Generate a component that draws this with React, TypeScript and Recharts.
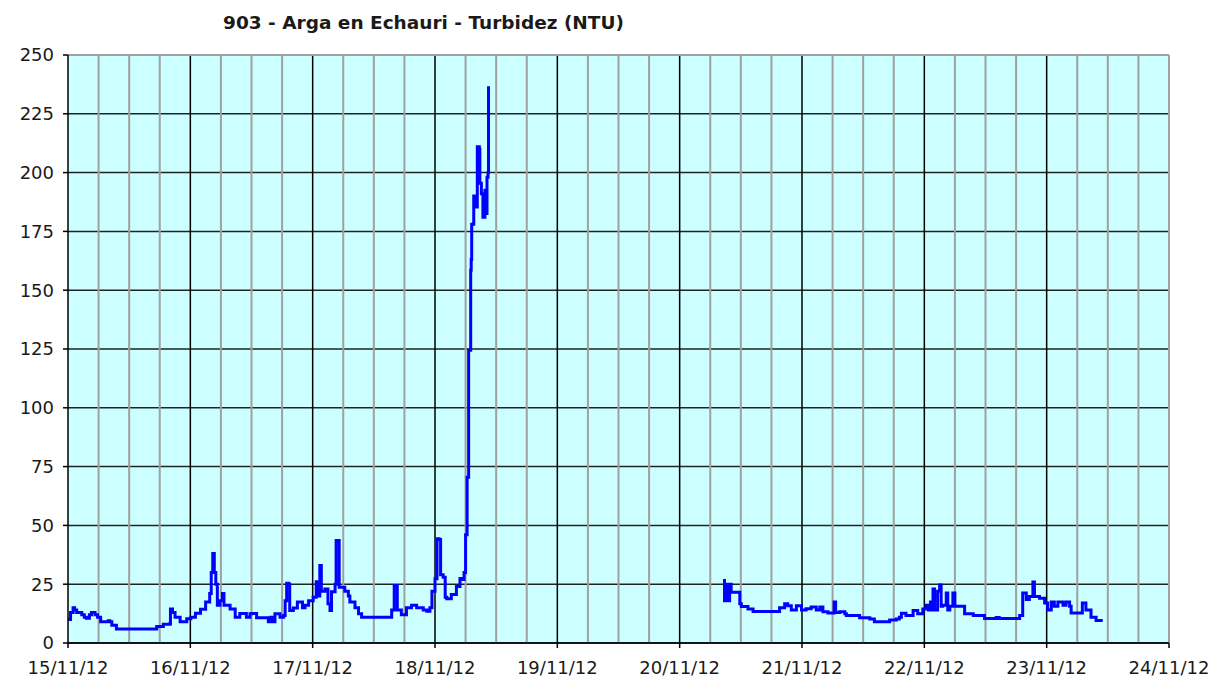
import React from "react";
import { LineChart, Line, XAxis, YAxis, CartesianGrid, ReferenceLine } from "recharts";

const title = "903 - Arga en Echauri - Turbidez (NTU)";
const dayLabels = ["15/11/12", "16/11/12", "17/11/12", "18/11/12", "19/11/12", "20/11/12", "21/11/12", "22/11/12", "23/11/12", "24/11/12"];
const xTicks = [0, 24, 48, 72, 96, 120, 144, 168, 192, 216];
const yTicks = [0, 25, 50, 75, 100, 125, 150, 175, 200, 225, 250];
const dayLines = [24, 48, 72, 96, 120, 144, 168, 192];
const sixHourLines = [6, 12, 18, 30, 36, 42, 54, 60, 66, 78, 84, 90, 102, 108, 114, 126, 132, 138, 150, 156, 162, 174, 180, 186, 198, 204, 210, 216];

// hours since 15/11/12 00:00
const hoursA = [0, 0.5, 1, 1.3, 1.7, 2.7, 3.2, 3.6, 4.2, 4.6, 5.3, 5.8, 6.4, 7.9, 8.2, 8.6, 9.5, 12, 16.7, 17.4, 18.7, 20, 20.1, 20.5, 21, 22, 23.3, 24.1, 25, 26, 27, 27.8, 28.1, 28.4, 28.7, 29, 29.3, 29.8, 30.3, 30.6, 31.8, 32.8, 33.7, 35, 35.7, 36, 37, 39, 39.3, 39.8, 40.3, 40.6, 41.6, 42.3, 42.6, 42.9, 43.3, 43.5, 44.2, 45, 46, 46.5, 47.2, 48.1, 48.7, 49, 49.4, 49.7, 50.4, 51, 51.4, 51.7, 52.4, 52.6, 53, 53.2, 54.3, 55, 55.3, 56.3, 57, 57.6, 62.8, 63.5, 64, 64.2, 64.6, 65.4, 66.4, 67.4, 68.4, 69.7, 70.4, 71, 71.4, 72, 72.4, 72.8, 73.1, 73.6, 74, 74.3, 75.2, 76.2, 76.9, 77.5, 77.7, 78, 78.3, 78.6, 79, 79.1, 79.2, 79.6, 79.9, 80.3, 80.7, 80.8, 81.1, 81.4, 81.8, 82.1, 82.2, 82.4, 82.5];
const valuesA = [10, 13, 15, 14, 13, 12, 11, 10.5, 12, 13, 12, 11, 9, 9.5, 9, 7.5, 6, 6, 6, 7, 8, 8.2, 14.5, 13, 11, 9, 10.3, 11, 12.7, 14.4, 17.4, 21, 30, 38, 30, 25, 16, 18, 21, 16, 14.5, 11, 12.5, 11, 12.4, 12.5, 10.7, 10.7, 9, 11, 9, 12.4, 11, 11.7, 18, 25.4, 25, 13.8, 14.9, 17.4, 15, 16, 18, 19.5, 26, 20, 33, 22, 23, 16.7, 13.8, 21.8, 25, 43.6, 43.6, 23.7, 22, 20, 17.4, 15, 12.4, 11, 11, 14, 24.5, 24.5, 14, 12, 15, 16, 15, 14, 13.5, 15, 22, 27.3, 44.3, 44, 29, 28, 19.5, 18.8, 20.6, 24, 27.4, 27, 30, 46, 70.5, 124.5, 158.5, 163, 178, 190, 185.4, 211, 210, 195.5, 191, 181, 192.5, 182.6, 198, 200, 236.7];

const gapHour = 100;

const hoursB = [128.5, 128.8, 129.2, 129.5, 129.8, 130.1, 131.4, 131.8, 132.1, 133.4, 134.4, 139, 139.6, 140.6, 141.2, 141.9, 142.9, 143.9, 144.8, 145.8, 146.8, 147.5, 148.1, 149.1, 150.1, 150.3, 150.6, 151.4, 152.4, 152.7, 154.6, 155.3, 157.3, 158.2, 160.5, 161.2, 162.5, 163.1, 163.5, 164.4, 165.8, 166.7, 167.7, 168.4, 168.8, 169.2, 169.5, 169.7, 170, 170.6, 171, 171.3, 171.6, 172.3, 172.6, 173, 173.6, 174, 175, 175.9, 177.6, 179.8, 182.1, 182.7, 185.7, 186.7, 187.3, 188, 188.6, 189.3, 189.6, 190.6, 191.6, 192.2, 192.9, 193.5, 194.2, 195.2, 195.8, 196.5, 196.8, 198.1, 199, 199.7, 200.7, 201.7, 203];
const valuesB = [26.6, 18, 25, 18, 25, 21.6, 21.6, 16.7, 15.5, 14.5, 13.4, 13.4, 15, 16.7, 15.8, 14, 15.8, 14, 14.6, 15.3, 14, 15.3, 13.3, 12.8, 12.8, 17.4, 13, 13.3, 12.4, 11.7, 11.7, 10.7, 10.2, 9, 9, 9.8, 10.2, 11, 12.6, 11.7, 13.8, 12.4, 14.5, 16, 14, 17.4, 14, 23, 14, 22, 24.7, 15.6, 16, 21.3, 14, 15.6, 21.3, 15.6, 15.6, 12.4, 11.7, 10.4, 10.8, 10.4, 10.4, 11.7, 21.3, 18.5, 19.8, 25.9, 19.8, 19, 17, 14, 17.4, 15.6, 17.4, 16, 17.4, 15.6, 12.8, 12.8, 17, 14, 11, 9.6, 9.6];

const data = [
  ...hoursA.map((h, i) => ({ h, v: valuesA[i] as number | null })),
  { h: gapHour, v: null },
  ...hoursB.map((h, i) => ({ h, v: valuesB[i] as number | null })),
];

const FONT = "'DejaVu Sans', Verdana, sans-serif";
const tickStyle = { fontFamily: FONT, fontSize: 18, fill: "#1a1a1a" };

export default function App() {
  return (
    <div style={{ position: "absolute", left: 0, top: 0, width: 1228, height: 684, background: "#ffffff" }}>
      <div
        style={{
          position: "absolute",
          left: 0,
          width: 847,
          top: 12,
          textAlign: "center",
          fontFamily: FONT,
          fontWeight: "bold",
          fontSize: 18.5,
          color: "#1a1a1a",
        }}
      >
        {title}
      </div>
      <LineChart
        width={1228}
        height={684}
        data={data}
        margin={{ top: 55, right: 59, bottom: 0, left: 0 }}
      >
        <CartesianGrid vertical={false} stroke="#222222" strokeWidth={1.5} fill="#CCFFFF" />
        {sixHourLines.map((x) => (
          <ReferenceLine key={"g" + x} x={x} stroke="#A0A0A0" strokeWidth={2} />
        ))}
        {dayLines.map((x) => (
          <ReferenceLine key={"d" + x} x={x} stroke="#000000" strokeWidth={1.5} />
        ))}
        <ReferenceLine y={250} stroke="#A0A0A0" strokeWidth={2} />
        <XAxis
          dataKey="h"
          type="number"
          domain={[0, 216]}
          ticks={xTicks}
          tickFormatter={(v: number) => dayLabels[xTicks.indexOf(v)] ?? ""}
          interval={0}
          height={41}
          tickSize={5}
          tickMargin={13}
          axisLine={{ stroke: "#000", strokeWidth: 1.5 }}
          tickLine={{ stroke: "#000", strokeWidth: 1.5 }}
          tick={tickStyle}
        />
        <YAxis
          type="number"
          domain={[0, 250]}
          ticks={yTicks}
          interval={0}
          width={68}
          tickSize={5}
          tickMargin={9}
          axisLine={{ stroke: "#000", strokeWidth: 1.5 }}
          tickLine={{ stroke: "#000", strokeWidth: 1.5 }}
          tick={tickStyle}
        />
        <Line
          dataKey="v"
          type="stepAfter"
          stroke="#0000FF"
          strokeWidth={3}
          dot={false}
          connectNulls={false}
          isAnimationActive={false}
        />
      </LineChart>
    </div>
  );
}
